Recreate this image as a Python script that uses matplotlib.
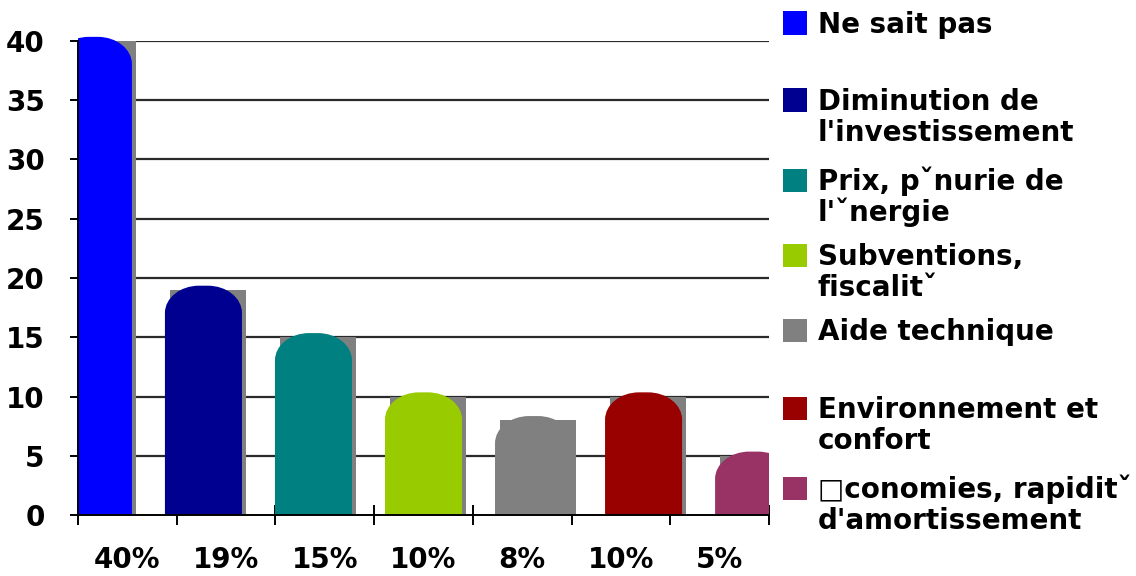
import numpy as np
import matplotlib
matplotlib.use("Agg")
import matplotlib.pyplot as plt
from matplotlib.path import Path
from matplotlib.patches import PathPatch, Rectangle

# valeurs du graphique
values = [40, 19, 15, 10, 8, 10, 5]
pct_labels = ["40%", "19%", "15%", "10%", "8%", "10%", "5%"]
legend_labels = [
    "Ne sait pas",
    "Diminution de\nl'investissement",
    "Prix, p\u02c7nurie de\nl'\u02c7nergie",
    "Subventions,\nfiscalit\u02c7",
    "Aide technique",
    "Environnement et\nconfort",
    "\u25a1conomies, rapidit\u02c7\nd'amortissement",
]
colors = ["#0000ff", "#000090", "#008080", "#99cc00", "#808080", "#990000", "#993366"]
y_ticks = [0, 5, 10, 15, 20, 25, 30, 35, 40]

plt.rcParams["font.family"] = "DejaVu Sans"
plt.rcParams["font.weight"] = "bold"

W, H = 1136, 576
fig = plt.figure(figsize=(W / 100, H / 100), dpi=100)
ax = fig.add_axes([78 / W, 1 - 515 / H, (769 - 78) / W, (515 - 41) / H])

x0, x1 = -0.14, 6.14
ax.set_xlim(x0, x1)
ax.set_ylim(0, 40)

bar_w = 0.70
shift = 0.036   # ombre décalée vers la droite
rx, ry, bump = 0.31, 2.3, 0.35
k = 0.5523

# clip un peu au-dessus de l'axe pour laisser passer le dôme
clip = Rectangle((0, 0), 1, 1.05, transform=ax.transAxes, facecolor="none")

def dome(xl, xr, h):
    top = h + bump
    verts = [
        (xl, 0), (xl, top - ry),
        (xl, top - ry + k * ry), (xl + rx - k * rx, top), (xl + rx, top),
        (xr - rx, top),
        (xr - rx + k * rx, top), (xr, top - ry + k * ry), (xr, top - ry),
        (xr, 0), (xl, 0),
    ]
    codes = [Path.MOVETO, Path.LINETO,
             Path.CURVE4, Path.CURVE4, Path.CURVE4,
             Path.LINETO,
             Path.CURVE4, Path.CURVE4, Path.CURVE4,
             Path.LINETO, Path.CLOSEPOLY]
    return Path(verts, codes)

for i, (v, c) in enumerate(zip(values, colors)):
    xl, xr = i - bar_w / 2, i + bar_w / 2
    sh = Rectangle((xl + shift + 0.01, 0), bar_w - 0.01, v, facecolor="#808080",
                   edgecolor="none", zorder=2)
    ax.add_patch(sh)
    p = PathPatch(dome(xl, xr, v), facecolor=c, edgecolor="none", zorder=3)
    ax.add_patch(p)
    p.set_clip_path(clip)

# grille horizontale
for y in y_ticks[1:]:
    ax.axhline(y, color="#2a2a2a", lw=1.6, zorder=1)

for s in ["top", "right"]:
    ax.spines[s].set_visible(False)
ax.spines["left"].set_linewidth(1.4)
ax.spines["bottom"].set_linewidth(1.4)
ax.spines["left"].set_zorder(4)
ax.spines["bottom"].set_zorder(4)

ax.set_yticks(y_ticks)
ax.set_yticklabels([str(t) for t in y_ticks])
ax.tick_params(axis="y", length=6, width=1.4, pad=18, labelsize=20, direction="out")

edges = np.linspace(x0, x1, len(values) + 1)
ax.set_xticks(edges)
ax.set_xticklabels([])
ax.set_xticks((edges[:-1] + edges[1:]) / 2, minor=True)
ax.set_xticklabels(pct_labels, minor=True)
ax.tick_params(axis="x", which="major", length=14, width=1.4, direction="inout")
ax.tick_params(axis="x", which="minor", length=0, pad=22, labelsize=20)
for lab in ax.get_xticklabels(minor=True) + ax.get_yticklabels():
    lab.set_fontweight("bold")

# légende
baselines = [33, 110, 190, 265, 340, 418, 498]
line_gap = 31
for lab, c, b in zip(legend_labels, colors, baselines):
    fig.patches.append(Rectangle((783 / W, 1 - (b - 10 + 11.5) / H), 24 / W, 23 / H,
                                 facecolor=c, edgecolor="none",
                                 transform=fig.transFigure, figure=fig))
    for j, line in enumerate(lab.split("\n")):
        fig.text(818 / W, 1 - (b + j * line_gap) / H, line, fontsize=20,
                 fontweight="bold", va="baseline", ha="left")

fig.savefig("out.png", dpi=100)
